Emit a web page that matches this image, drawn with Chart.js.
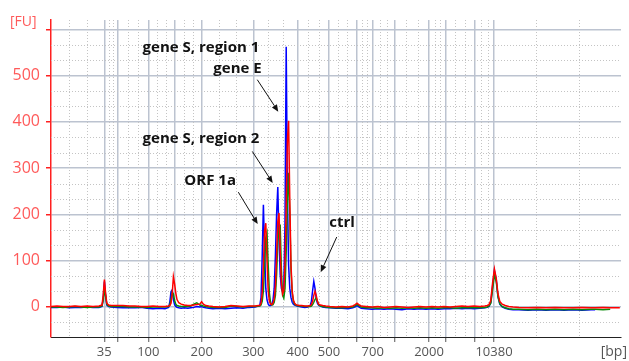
<!DOCTYPE html>
<html>
<head>
<meta charset="utf-8">
<script src="https://cdn.jsdelivr.net/npm/chart.js@4.4.0/dist/chart.umd.min.js"></script>
<style>
  html, body { margin: 0; padding: 0; background: #fff; }
  canvas { display: block; }
</style>
</head>
<body>
<canvas id="trace" width="629" height="361"></canvas>
<script>
// Migration time of every sample (s)
const times = [
  40, 41, 42, 43, 44, 45, 46, 47, 48,
  48.5, 48.7, 48.9, 49.1, 49.3, 49.6, 50.0,
  51, 52, 53, 54, 55, 56, 57, 58, 59, 59.6,
  59.8, 60.0, 60.2, 60.4, 60.6, 60.8, 61.0, 61.3, 61.7, 62.2, 62.8,
  63.3, 63.8, 64.3, 64.8, 65.1, 65.4, 65.8, 66.3, 67, 68, 69, 70, 71, 72, 73, 74, 74.6,
  74.8, 75.0, 75.2, 75.4, 75.6, 75.8, 76.0, 76.2, 76.4, 76.6,
  76.8, 77.0, 77.2, 77.4, 77.6, 77.8, 78.0, 78.2, 78.4, 78.6,
  78.8, 79.0, 79.2, 79.4, 79.6, 79.8, 80.0, 80.2, 80.4, 80.6,
  80.8, 81.0,
  81.4, 81.8, 82.3, 82.8, 83.2,
  83.4, 83.6, 83.8, 84.0, 84.2, 84.4, 84.6, 84.9, 85.3, 85.8,
  86.5, 87.5, 88.5, 89.5, 90.3, 90.7, 91.0, 91.3, 91.7, 92.5,
  93.5, 94.5, 95.5, 96.5, 97.5, 98.5, 99.5, 100.5, 101.5, 102.5,
  103.5, 104.5, 105.5, 106.5, 107.5, 108.5, 109.5, 110.5, 111.5, 112.3,
  112.7, 113.0, 113.3, 113.6, 113.9, 114.2, 114.5, 114.8, 115.2, 115.7, 116.3, 117,
  118, 119.5, 121, 122.5, 124, 125.5, 127, 128.5, 130, 130.7, 132, 133.2, 134, 134.8
];

// Fluorescence of the three samples (FU)
const redTrace = [
  1, 2, 1, 1, 2, 1, 2, 1, 2,
  4, 25, 59, 30, 8, 4, 3,
  3, 3, 2, 2, 1, 1, 2, 1, 1, 2,
  3, 8, 28, 65, 50, 30, 16, 9, 6, 4, 3,
  3, 4, 5, 6, 11, 6, 3, 2, 1, 0, 1, 3, 2, 1, 2, 2, 3,
  3, 8, 30, 90, 165, 181, 100, 35, 12, 6,
  5, 8, 18, 45, 110, 185, 203, 120, 50, 28,
  35, 90, 220, 360, 402, 230, 90, 35, 15, 8,
  5, 4,
  3, 3, 2, 2, 3,
  5, 12, 25, 34, 25, 12, 6, 4, 3, 2,
  1, 0, 1, 0, 2, 5, 8, 5, 2, 1,
  0, 1, -1, 0, 1, 0, -1, 0, 1, 0,
  1, 0, 1, 0, 1, 2, 1, 2, 1, 2,
  3, 5, 14, 52, 82, 62, 28, 12, 6, 3, 1, 0,
  -1, -2, -1, -2, -1, -2, -2, -1, -2, -2, -1, -2, -2, -2
];

const greenTrace = [
  0, 0, -1, 0, 1, 0, -1, 0, 0,
  2, 14, 38, 24, 6, 2, 1,
  1, 1, 0, 0, 0, -1, 0, 0, 0, 1,
  4, 16, 32, 28, 14, 6, 3, 2, 1, 1, 1,
  2, 6, 9, 4, 3, 2, 1, 0, -1, -1, -1, 2, 1, 0, 1, 1, 2,
  2, 4, 12, 35, 90, 150, 160, 90, 30, 8,
  4, 5, 10, 25, 70, 140, 172, 175, 80, 25,
  19, 40, 120, 230, 290, 200, 80, 30, 12, 6,
  4, 3,
  2, 2, 1, 1, 1,
  2, 5, 10, 16, 20, 12, 5, 2, 1, 0,
  -1, -2, -2, -1, 0, 3, 5, 3, 0, -2,
  -2, -3, -2, -3, -2, -3, -2, -3, -2, -3,
  -2, -3, -2, -2, -3, -2, -2, -1, -2, -1,
  0, 2, 8, 38, 70, 55, 22, 7, 1, -2, -4, -5,
  -5, -6, -5, -6, -5, -6, -5, -6, -5, -5, -6, -5, null, null
];

const blueTrace = [
  -1, -1, 0, -2, -1, -1, 0, -1, -1,
  1, 18, 55, 24, 4, 1, 0,
  -1, -2, -1, -2, -1, -3, -4, -3, -4, -1,
  10, 33, 37, 16, 5, 1, -1, -2, -3, -2, -3,
  -2, -1, 1, 0, 1, -1, -2, -3, -4, -3, -4, -3, -2, -3, -1, 0, 2,
  3, 20, 110, 221, 120, 40, 15, 6, 3, 3,
  6, 15, 40, 110, 200, 259, 150, 70, 40, 32,
  45, 180, 562, 250, 90, 40, 20, 10, 6, 4,
  3, 2,
  1, 0, -1, 0, 3,
  12, 35, 55, 40, 18, 8, 4, 2, 0, -1,
  -2, -3, -3, -4, -2, 0, 3, 0, -3, -4,
  -5, -4, -5, -4, -5, -6, -4, -5, -4, -5,
  -4, -5, -4, -4, -3, -4, -3, -4, -3, -2,
  -1, 1, 10, 45, 78, 60, 22, 6, 0, -3, -5, -6,
  -6, -7, -6, -7, -6, -7, -6, -7, -6, -6, null, null, null, null
];

// Ladder peak positions (s) and their size labels (bp)
const ladderTimes = [48.88, 51.05, 56.22, 60.67, 65.12, 73.72, 81.12, 86.33, 90.95, 93.62, 97.28, 103.0, 105.78, 110.67, 113.83];
const ladderLabels = ['35', '', '100', '', '200', '300', '400', '500', '', '700', '', '2000', '', '', '10380'];

// Fluorescence ticks
const fuTicks = [0, 100, 200, 300, 400, 500, 600];
const fuLabels = ['0', '100', '200', '300', '400', '500', ''];

// Peak annotations: text, anchor (time, FU), alignment
const noteTexts = ['gene S, region 1', 'gene E', 'gene S, region 2', 'ORF 1a', 'ctrl'];
const noteTimes = [74.72, 75.12, 74.72, 70.83, 86.38];
const noteValues = [550, 505, 355, 264, 172];
const noteAlign = ['right', 'right', 'right', 'right', 'left'];
// Arrows: start and tip (time, FU)
const arrowFrom = [[74.38, 491], [73.55, 336], [71.22, 248], [87.62, 151]];
const arrowTo = [[77.88, 422], [76.95, 268], [74.45, 179], [84.95, 75]];

const X_MIN = 40, X_MAX = 135, Y_MIN = -65, Y_MAX = 620;

const toPoints = arr => times.map((t, i) => ({ x: t, y: arr[i] }));

// Dotted sub-grid: thirds between neighbouring ticks
const minorGrid = {
  id: 'minorGrid',
  beforeDatasetsDraw(chart) {
    const { ctx, chartArea: a, scales: { x, y } } = chart;
    ctx.save();
    ctx.strokeStyle = '#C4C4C4';
    ctx.lineWidth = 1;
    ctx.setLineDash([1, 2]);
    const xs = [X_MIN, ...ladderTimes, X_MAX];
    for (let i = 0; i < xs.length - 1; i++) {
      for (let k = 1; k <= 2; k++) {
        const v = xs[i] + (xs[i + 1] - xs[i]) * k / 3;
        const px = Math.round(x.getPixelForValue(v)) + 0.5;
        ctx.beginPath(); ctx.moveTo(px, a.top); ctx.lineTo(px, a.bottom); ctx.stroke();
      }
    }
    for (let i = -3; i <= 19; i++) {
      if (i % 3 === 0) continue;
      const v = i * 100 / 3;
      if (v < Y_MIN || v > Y_MAX) continue;
      const py = Math.round(y.getPixelForValue(v)) + 0.5;
      ctx.beginPath(); ctx.moveTo(a.left, py); ctx.lineTo(a.right, py); ctx.stroke();
    }
    ctx.restore();
  }
};

// Peak labels, arrows and axis units
const notes = {
  id: 'notes',
  afterDatasetsDraw(chart) {
    const { ctx, scales: { x, y } } = chart;
    ctx.save();
    ctx.fillStyle = '#111';
    ctx.strokeStyle = '#111';
    ctx.font = 'bold 15px "Open Sans"';
    ctx.textBaseline = 'alphabetic';
    noteTexts.forEach((t, i) => {
      ctx.textAlign = noteAlign[i];
      ctx.fillText(t, x.getPixelForValue(noteTimes[i]), y.getPixelForValue(noteValues[i]));
    });
    ctx.lineWidth = 1;
    arrowFrom.forEach((f, i) => {
      const x0 = x.getPixelForValue(f[0]), y0 = y.getPixelForValue(f[1]);
      const x1 = x.getPixelForValue(arrowTo[i][0]), y1 = y.getPixelForValue(arrowTo[i][1]);
      const ang = Math.atan2(y1 - y0, x1 - x0);
      const len = 7, half = 3;
      const bx = x1 - len * Math.cos(ang), by = y1 - len * Math.sin(ang);
      ctx.beginPath(); ctx.moveTo(x0, y0); ctx.lineTo(bx, by); ctx.stroke();
      ctx.beginPath();
      ctx.moveTo(x1, y1);
      ctx.lineTo(bx + half * Math.sin(ang), by - half * Math.cos(ang));
      ctx.lineTo(bx - half * Math.sin(ang), by + half * Math.cos(ang));
      ctx.closePath(); ctx.fill();
    });
    ctx.restore();
  },
  afterDraw(chart) {
    const { ctx, chartArea: a } = chart;
    ctx.save();
    ctx.font = '14px "Open Sans"';
    ctx.textBaseline = 'alphabetic';
    ctx.fillStyle = '#FF5A5A';
    ctx.textAlign = 'left';
    ctx.fillText('[FU]', a.left - 41, a.top + 6);
    ctx.fillStyle = '#555';
    ctx.textAlign = 'right';
    ctx.fillText('[bp]', chart.width - 2, a.bottom + 19);
    ctx.restore();
  }
};

const lineStyle = { borderWidth: 1.5, pointRadius: 0, tension: 0, spanGaps: false, fill: false };

new Chart(document.getElementById('trace'), {
  type: 'line',
  data: {
    datasets: [
      { label: 'sample 3', data: toPoints(redTrace), borderColor: '#FF0000', ...lineStyle },
      { label: 'sample 2', data: toPoints(greenTrace), borderColor: '#0A8A0A', ...lineStyle },
      { label: 'sample 1', data: toPoints(blueTrace), borderColor: '#0000FF', ...lineStyle }
    ]
  },
  options: {
    responsive: false,
    animation: false,
    events: [],
    layout: { padding: { top: 20, right: 8, left: 0, bottom: 0 } },
    plugins: { legend: { display: false }, tooltip: { enabled: false } },
    scales: {
      x: {
        type: 'linear',
        min: X_MIN,
        max: X_MAX,
        afterBuildTicks: s => { s.ticks = ladderTimes.map(v => ({ value: v })); },
        afterFit: s => { s.height = 24; },
        ticks: {
          autoSkip: false, maxRotation: 0, minRotation: 0, padding: 2,
          color: '#555', font: { family: 'Open Sans', size: 13 },
          callback: (v, i) => ladderLabels[i]
        },
        grid: { color: '#BCC3D0', lineWidth: 1.5, tickColor: '#555', tickLength: 5, tickWidth: 1 },
        border: { color: '#222', width: 1 }
      },
      y: {
        min: Y_MIN,
        max: Y_MAX,
        afterBuildTicks: s => { s.ticks = fuTicks.map(v => ({ value: v })); },
        afterFit: s => { s.width = 51; },
        ticks: {
          padding: 6, color: '#FF5A5A', font: { family: 'Open Sans', size: 16 },
          callback: (v, i) => fuLabels[i]
        },
        grid: { color: '#BCC3D0', lineWidth: 1.5, tickColor: '#FF2020', tickLength: 5, tickWidth: 1.5 },
        border: { color: '#FF2020', width: 1.5 }
      }
    }
  },
  plugins: [minorGrid, notes]
});
</script>
</body>
</html>
